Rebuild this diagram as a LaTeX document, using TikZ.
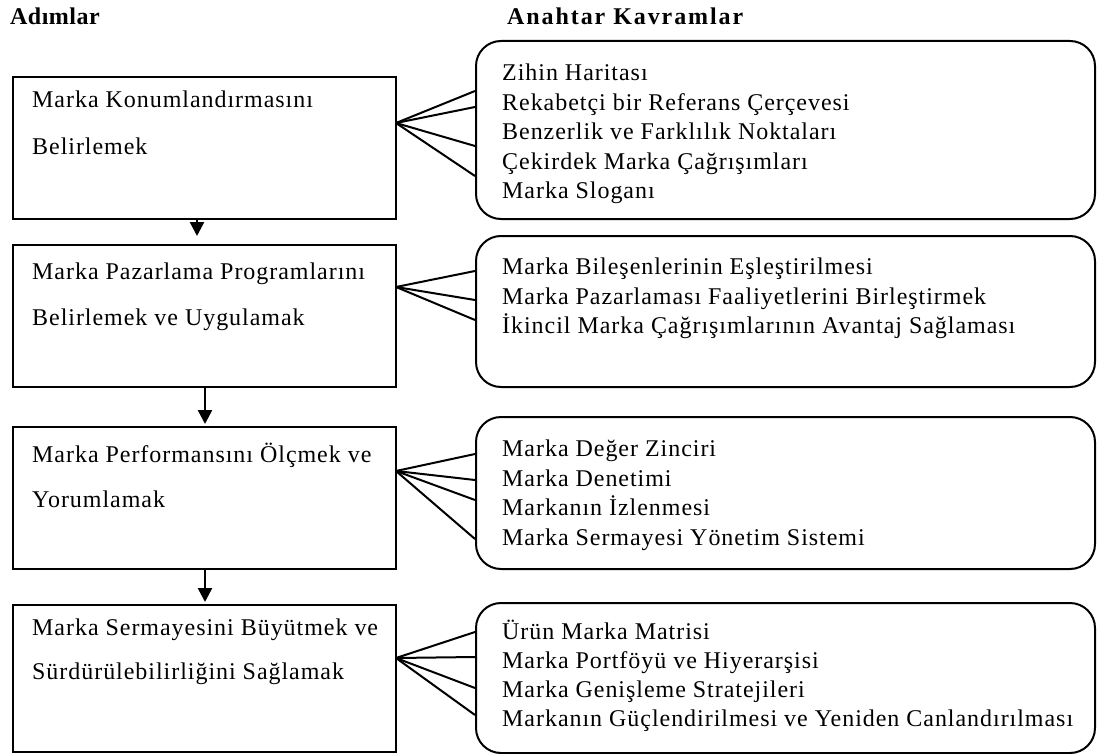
\documentclass[tikz,border=0pt]{standalone}
\usepackage{fontspec}
\setmainfont{Liberation Serif}[LetterSpace=4]
\newfontfamily\headA{Liberation Serif}[LetterSpace=2]
\newfontfamily\headB{Liberation Serif}[LetterSpace=8]
\usetikzlibrary{arrows.meta}
\begin{document}
\begin{tikzpicture}[x=1pt,y=-1pt,
  stepbox/.style={draw, line width=2pt, minimum width=383pt, anchor=north west, inner sep=0pt},
  conceptbox/.style={draw, line width=2pt, rounded corners=25pt, minimum width=619pt, anchor=north west, inner sep=0pt},
  txt/.style={anchor=west, inner sep=0pt, text height=15.9pt, text depth=0pt, font=\fontsize{24}{28}\selectfont},
  head/.style={anchor=west, inner sep=0pt, text height=15.9pt, text depth=0pt},
  fan/.style={line width=2pt},
  arr/.style={line width=2.5pt, -{Triangle[width=14pt,length=14pt]}}
]
\useasboundingbox (0,0) rectangle (1097,754);
% headers
\node[head, font=\fontsize{24}{28}\selectfont\headA\bfseries] (h1) at (10,17) {Adımlar};
\node[head, font=\fontsize{24}{28}\selectfont\headB\bfseries] (h2) at (507,17) {Anahtar Kavramlar};
% step boxes
\node[stepbox, minimum height=142pt] (b1) at (12,76) {};
\node[stepbox, minimum height=142pt] (b2) at (12,244) {};
\node[stepbox, minimum height=142pt] (b3) at (12,426) {};
\node[stepbox, minimum height=147pt] (b4) at (12,604) {};
\node[txt] (t11) at (32,100) {Marka Konumlandırmasını};
\node[txt] (t12) at (32,147) {Belirlemek};
\node[txt] (t21) at (32,272) {Marka Pazarlama Programlarını};
\node[txt] (t22) at (32,318) {Belirlemek ve Uygulamak};
\node[txt] (t31) at (32,455) {Marka Performansını Ölçmek ve};
\node[txt] (t32) at (32,500) {Yorumlamak};
\node[txt] (t41) at (32,628) {Marka Sermayesini Büyütmek ve};
\node[txt] (t42) at (32,672) {Sürdürülebilirliğini Sağlamak};
% concept boxes
\node[conceptbox, minimum height=178pt] (r1) at (475,40) {};
\node[conceptbox, minimum height=151pt] (r2) at (475,235) {};
\node[conceptbox, minimum height=152pt] (r3) at (475,416) {};
\node[conceptbox, minimum height=150pt] (r4) at (475,602) {};
\foreach \t [count=\i] in {Zihin Haritası, Rekabetçi bir Referans Çerçevesi, Benzerlik ve Farklılık Noktaları, Çekirdek Marka Çağrışımları, Marka Sloganı}
  \node[txt] (c1-\i) at (502,{73+29.5*(\i-1)}) {\t};
\foreach \t [count=\i] in {Marka Bileşenlerinin Eşleştirilmesi, Marka Pazarlaması Faaliyetlerini Birleştirmek, İkincil Marka Çağrışımlarının Avantaj Sağlaması}
  \node[txt] (c2-\i) at (502,{267+29.5*(\i-1)}) {\t};
\foreach \t [count=\i] in {Marka Değer Zinciri, Marka Denetimi, Markanın İzlenmesi, Marka Sermayesi Yönetim Sistemi}
  \node[txt] (c3-\i) at (502,{449+29.5*(\i-1)}) {\t};
\foreach \t [count=\i] in {Ürün Marka Matrisi, Marka Portföyü ve Hiyerarşisi, Marka Genişleme Stratejileri, Markanın Güçlendirilmesi ve Yeniden Canlandırılması}
  \node[txt] (c4-\i) at (502,{632+29*(\i-1)}) {\t};
% fans
\coordinate (f1) at (396,123);
\coordinate (f2) at (396,287);
\coordinate (f3) at (396,471);
\coordinate (f4) at (396,658);
\foreach \y in {91,107,146,176} \draw[fan] (f1) -- (r1.west |- 0,\y);
\foreach \y in {271,300,320} \draw[fan] (f2) -- (r2.west |- 0,\y);
\foreach \y in {454,480,500,539} \draw[fan] (f3) -- (r3.west |- 0,\y);
\foreach \y in {632,657,688,715} \draw[fan] (f4) -- (r4.west |- 0,\y);
% arrows
\draw[arr, shorten >=8pt] (b1.south -| 197,0) -- (b2.north -| 197,0);
\draw[arr, shorten >=2pt] (b2.south -| 205,0) -- (b3.north -| 205,0);
\draw[arr, shorten >=2pt] (b3.south -| 205,0) -- (b4.north -| 205,0);
\end{tikzpicture}
\end{document}
